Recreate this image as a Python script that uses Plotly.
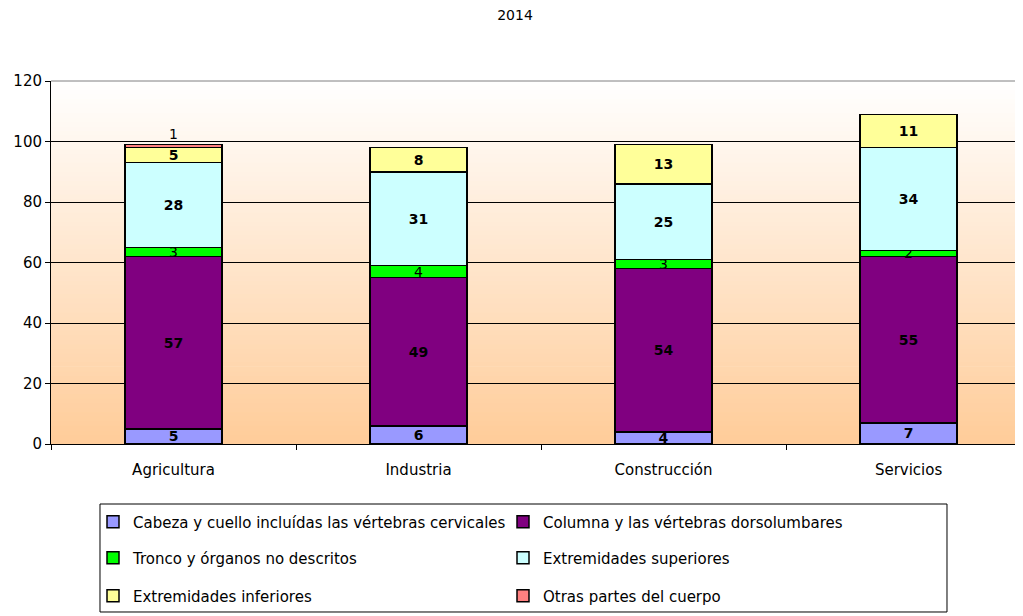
import plotly.graph_objects as go

categories = ["Agricultura", "Industria", "Construcción", "Servicios"]
cabeza = [5, 6, 4, 7]
columna = [57, 49, 54, 55]
tronco = [3, 4, 3, 2]
ext_sup = [28, 31, 25, 34]
ext_inf = [5, 8, 13, 11]
otras = [1, None, None, None]

series = [
    ("Cabeza y cuello incluídas las vértebras cervicales", cabeza, "#9999FF", True, "legend"),
    ("Columna y las vértebras dorsolumbares", columna, "#800080", True, "legend"),
    ("Tronco y órganos no descritos", tronco, "#00FF00", False, "legend2"),
    ("Extremidades superiores", ext_sup, "#CCFFFF", True, "legend2"),
    ("Extremidades inferiores", ext_inf, "#FFFF99", True, "legend3"),
    ("Otras partes del cuerpo", otras, "#FF8080", False, "legend3"),
]

FONT = "DejaVu Sans"
W, H = 1015, 608  # page body has an 8px margin

fig = go.Figure()
for name, vals, color, bold, leg in series:
    is_top = name.startswith("Otras")
    fig.add_trace(go.Bar(
        x=categories, y=vals, name=name, legend=leg,
        marker=dict(color=color, line=dict(color="#000000", width=1.5)),
        width=0.396,
        texttemplate="<b>%{y}</b>" if bold else "%{y}",
        textposition="outside" if is_top else "inside",
        insidetextanchor="middle",
        textangle=0,
        constraintext="none",
        cliponaxis=False,
        insidetextfont=dict(color="#000000", size=14, family=FONT),
        outsidetextfont=dict(color="#000000", size=14, family=FONT),
    ))

# gradient background bands
n = 80
top = (255, 255, 255)
bot = (255, 204, 153)
shapes = []
for i in range(n):
    t = (i + 0.5) / n
    c = tuple(round(bot[k] + (top[k] - bot[k]) * t) for k in range(3))
    shapes.append(dict(type="rect", xref="x domain", yref="y domain",
                       x0=0, x1=1, y0=i / n, y1=min((i + 1) / n + 0.002, 1),
                       fillcolor="rgb(%d,%d,%d)" % c, line=dict(width=0),
                       layer="below"))
# top border of plot area
shapes.append(dict(type="line", xref="x domain", yref="y domain", x0=0, x1=1, y0=1, y1=1,
                   line=dict(color="#808080", width=1)))
# legend box
shapes.append(dict(type="rect", xref="paper", yref="paper",
                   x0=0.0504, x1=0.9218, y0=-0.4628, y1=-0.1653,
                   line=dict(color="#000000", width=1), fillcolor="rgba(0,0,0,0)"))

leg_common = dict(orientation="h", xref="container", yref="container",
                  x=85 / W, xanchor="left", yanchor="middle",
                  traceorder="normal",
                  entrywidth=365, entrywidthmode="pixels",
                  bgcolor="rgba(0,0,0,0)", font=dict(family=FONT, size=15, color="#000"))

fig.update_layout(
    width=W, height=H,
    barmode="stack",
    paper_bgcolor="white",
    plot_bgcolor="rgba(0,0,0,0)",
    margin=dict(l=43, r=0, t=73, b=172),
    font=dict(family=FONT, size=14, color="#000000"),
    title=dict(text="2014", x=507 / W, xanchor="center", y=1 - 7 / H,
               yanchor="middle", yref="container", font=dict(size=14, family=FONT)),
    xaxis=dict(range=[-0.5, 3.467], showline=True, linecolor="#000000", linewidth=1,
               ticks="outside", ticklen=5, tickcolor="#000000", tickson="boundaries",
               showgrid=False, zeroline=False, ticklabelstandoff=12,
               tickfont=dict(size=15, family=FONT)),
    yaxis=dict(range=[0, 120], dtick=20, showline=True, linecolor="#000000", linewidth=1,
               ticks="outside", ticklen=5, tickcolor="#000000",
               showgrid=True, gridcolor="#000000", gridwidth=1, zeroline=False,
               tickfont=dict(size=15, family=FONT)),
    shapes=shapes,
    legend=dict(y=1 - (522 - 8) / H, **leg_common),
    legend2=dict(y=1 - (558 - 8) / H, **leg_common),
    legend3=dict(y=1 - (596 - 8) / H, **leg_common),
    showlegend=True,
)

fig.write_html("out.html")
